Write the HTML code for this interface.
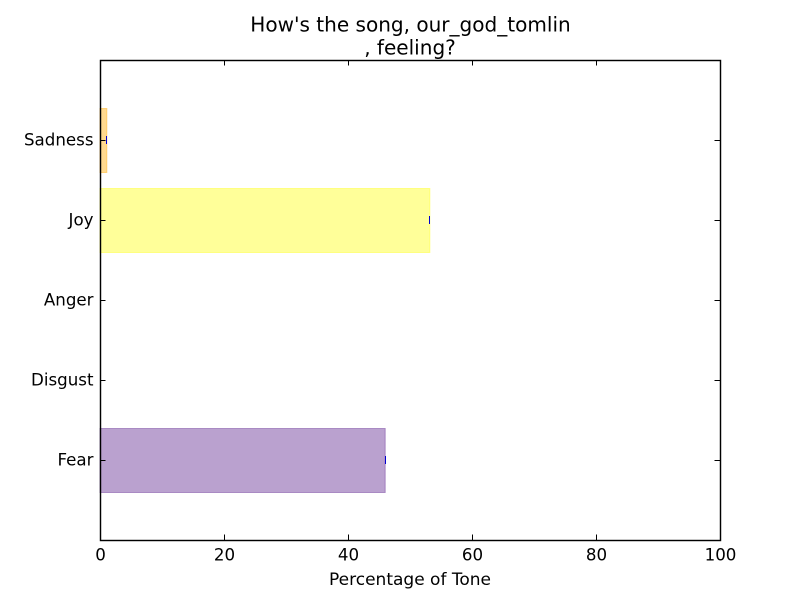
<!DOCTYPE html>
<html>
<head>
<meta charset="utf-8">
<title>Tone chart</title>
<style>
html,body{margin:0;padding:0;background:#fff;width:800px;height:600px;overflow:hidden}
svg{display:block}
text{font-family:"DejaVu Sans",sans-serif;fill:#000}
</style>
</head>
<body>
<svg id="chart" xmlns="http://www.w3.org/2000/svg" width="800" height="600" viewBox="0 0 800 600">
<rect x="0" y="0" width="800" height="600" fill="#fff"></rect>
<text x="410.5" y="31.5" font-size="20.05" text-anchor="middle">How's the song, our_god_tomlin</text>
<text x="410" y="54.5" font-size="20.05" text-anchor="middle">, feeling?</text>
<text x="410" y="585" font-size="17" text-anchor="middle">Percentage of Tone</text>
<g id="bars"></g>
<g id="caps"></g>
<g id="ticks"></g>
<rect x="100.5" y="60.5" width="620" height="480" fill="none" stroke="#000" stroke-width="1.45"></rect>
</svg>
<script>
var categories = ["Fear", "Disgust", "Anger", "Joy", "Sadness"];
var values = [46, 0, 0, 53.2, 1.1];
var barColors = ["#7544a0", "#e0e0e0", "#e04040", "#ffff33", "#ffb31f"];
var xTicks = [0, 20, 40, 60, 80, 100];

var NS = "http://www.w3.org/2000/svg";
function xScale(v) { return 100 + (v - 0) / (100 - 0) * 620; }
function yScale(i) { return 540 - (i - (-1)) / (5 - (-1)) * 480; }
var barsG = document.getElementById("bars");
var capsG = document.getElementById("caps");
var ticksG = document.getElementById("ticks");

function line(parent, x1, y1, x2, y2, color, width) {
  var l = document.createElementNS(NS, "line");
  l.setAttribute("x1", x1);
  l.setAttribute("y1", y1);
  l.setAttribute("x2", x2);
  l.setAttribute("y2", y2);
  l.setAttribute("stroke", color);
  l.setAttribute("stroke-width", width);
  parent.appendChild(l);
  return l;
}

function label(x, y, str, anchor) {
  var t = document.createElementNS(NS, "text");
  t.setAttribute("x", x);
  t.setAttribute("y", y);
  t.setAttribute("font-size", "16.67");
  t.setAttribute("text-anchor", anchor);
  t.textContent = str;
  ticksG.appendChild(t);
  return t;
}

categories.forEach(function (name, i) {
  var cy = yScale(i);
  var top = yScale(i + 0.4);
  var bottom = yScale(i - 0.4);
  var end = xScale(values[i]);
  if (values[i] > 0) {
    var r = document.createElementNS(NS, "rect");
    r.setAttribute("x", xScale(0));
    r.setAttribute("y", top + 0.5);
    r.setAttribute("width", end - xScale(0));
    r.setAttribute("height", bottom - top);
    r.setAttribute("fill", barColors[i]);
    r.setAttribute("fill-opacity", "0.5");
    r.setAttribute("stroke", barColors[i]);
    r.setAttribute("stroke-opacity", "0.5");
    r.setAttribute("stroke-width", "1");
    
    
    barsG.appendChild(r);
  }
  var capX = Math.floor(end) + 0.5;
  var cap = line(capsG, capX, cy - 4, capX, cy + 4, "#0000d0", 1);
  
  
  var tl = line(ticksG, 100, cy + 0.5, 105.5, cy + 0.5, "#000", 1);
  
  
  var tr = line(ticksG, 714.5, cy + 0.5, 720, cy + 0.5, "#000", 1);
  
  
  var yl = label(93.5, cy + 5.5, name, "end");
  
  
});

xTicks.forEach(function (v) {
  var x = xScale(v) + 0.5;
  var tb = line(ticksG, x, 540, x, 534.5, "#000", 1);
  
  
  var tt = line(ticksG, x, 60, x, 65.5, "#000", 1);
  
  
  var xl = label(x, 560.5, String(v), "middle");
  
  
});
</script>
</body>
</html>
